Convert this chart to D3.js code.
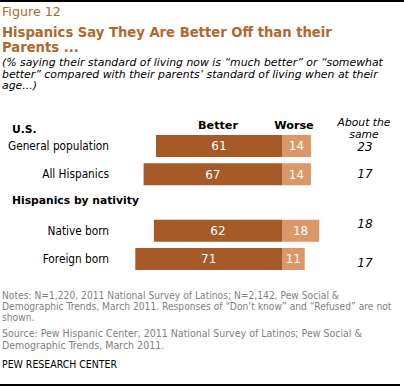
<!DOCTYPE html>
<html>
<head>
<meta charset="utf-8">
<script src="https://cdn.jsdelivr.net/npm/d3@7"></script>
<style>
  html, body { margin: 0; padding: 0; background: #fff; }
  svg { display: block; }
  text { font-family: "DejaVu Sans Condensed", "DejaVu Sans", Verdana, sans-serif; font-stretch: condensed; }
  text.wide { font-family: "DejaVu Sans", Verdana, sans-serif; font-stretch: normal; }
</style>
</head>
<body>
<svg id="chart" width="404" height="387"></svg>
<script>
// ---- data ----
const categories = ["General population", "All Hispanics", "Native born", "Foreign born"];
const groups = ["U.S.", "U.S.", "Hispanics by nativity", "Hispanics by nativity"];
const better = [61, 67, 62, 71];
const worse = [14, 14, 18, 11];
const aboutSame = [23, 17, 18, 17];
const groupHeaders = ["U.S.", "Hispanics by nativity"];
const seriesLabels = ["Better", "Worse"];
const sameLabel = ["About the", "same"];

const titleText = "Figure 12";
const headline = ["Hispanics Say They Are Better Off than their", "Parents ..."];
const subtitle = [
  "(% saying their standard of living now is \u201cmuch better\u201d or \u201csomewhat",
  "better\u201d compared with their parents\u2019 standard of living when at their",
  "age...)"
];
const notes = [
  "Notes: N=1,220,  2011 National Survey of Latinos; N=2,142, Pew  Social &",
  "Demographic Trends, March 2011. Responses of \u201cDon\u2019t know\u201d and \u201cRefused\u201d are not",
  "shown."
];
const source = [
  "Source: Pew Hispanic Center, 2011 National Survey of Latinos; Pew Social &",
  "Demographic Trends, March 2011."
];
const credit = "PEW RESEARCH CENTER";

// ---- layout / style ----
const W = 404, H = 387;
const cBetter = "#A55A27", cWorse = "#DC9769", cTitle = "#B0682E", cNote = "#7F7F7F";
const sameNudge = [1, -1, -7, 4];

const svg = d3.select("#chart");

function fitGroup(sel, refNode, target) {
  const base = 12;
  sel.style("font-size", base + "px");
  const w = refNode.getComputedTextLength();
  const fs = base * target / w;
  sel.style("font-size", fs.toFixed(2) + "px");
  return fs;
}

// rules
svg.append("rect").attr("x", 0).attr("y", 0).attr("width", W).attr("height", 2).attr("fill", "#000");
svg.append("rect").attr("x", 0).attr("y", 384).attr("width", 400).attr("height", 2).attr("fill", "#000");

// Figure label
const fig = svg.append("text").attr("class", "wide").attr("x", 2).attr("y", 16).attr("fill", cTitle).text(titleText);
fitGroup(fig, fig.node(), 59);

// headline
const hl = svg.append("g").selectAll("text").data(headline).join("text").attr("class", "wide")
  .attr("x", 2).attr("y", (d, i) => 37 + i * 14.5)
  .attr("fill", cTitle).attr("font-weight", "bold").text(d => d);
fitGroup(hl, hl.nodes()[0], 330);

// subtitle
const st = svg.append("g").selectAll("text").data(subtitle).join("text").attr("class", "wide")
  .attr("x", 2).attr("y", (d, i) => 66 + i * 11.7)
  .attr("fill", "#000").attr("font-style", "italic").text(d => d);
fitGroup(st, st.nodes()[0], 381);

// scales
const k = 2.066;
const x = d3.scaleLinear().domain([-80, 40]).range([282 - 80 * k, 282 + 40 * k]);
const rows = [categories[0], categories[1], "_gap", categories[2], categories[3]];
const y = d3.scaleBand().domain(rows).range([135, 270]).paddingInner(0.22).paddingOuter(0);

const data = categories.map((c, i) => ({ c, b: better[i], w: worse[i], s: aboutSame[i], i }));

// bars
const gBars = svg.append("g");
gBars.selectAll("rect.better").data(data).join("rect").attr("class", "better")
  .attr("x", d => x(-d.b)).attr("width", d => x(0) - x(-d.b))
  .attr("y", d => y(d.c)).attr("height", y.bandwidth()).attr("fill", cBetter);
gBars.selectAll("rect.worse").data(data).join("rect").attr("class", "worse")
  .attr("x", x(0)).attr("width", d => x(d.w) - x(0))
  .attr("y", d => y(d.c)).attr("height", y.bandwidth()).attr("fill", cWorse);

// value labels
gBars.selectAll("text.vb").data(data).join("text").attr("class", "vb wide")
  .attr("x", d => (x(-d.b) + x(0)) / 2).attr("y", d => y(d.c) + y.bandwidth() / 2)
  .attr("dy", "0.36em").attr("text-anchor", "middle").attr("fill", "#fff")
  .style("font-size", "12px").text(d => d.b);
gBars.selectAll("text.vw").data(data).join("text").attr("class", "vw wide")
  .attr("x", d => (x(d.w) + x(0)) / 2).attr("y", d => y(d.c) + y.bandwidth() / 2)
  .attr("dy", "0.36em").attr("text-anchor", "middle").attr("fill", "#fff")
  .style("font-size", "12px").text(d => d.w);

// about the same values
svg.append("g").selectAll("text").data(data).join("text").attr("class", "wide")
  .attr("x", 365).attr("y", d => y(d.c) + y.bandwidth() / 2 + sameNudge[d.i])
  .attr("dy", "0.36em").attr("text-anchor", "middle").attr("font-style", "italic")
  .style("font-size", "12px").attr("fill", "#000").text(d => d.s);

// row labels
const rl = svg.append("g").selectAll("text").data(data).join("text")
  .attr("x", 109).attr("y", d => y(d.c) + y.bandwidth() / 2)
  .attr("dy", "0.36em").attr("text-anchor", "end").attr("fill", "#000").text(d => d.c);
fitGroup(rl, rl.nodes()[0], 101);

// group headers
const ghY = [129, 200];
const gh = svg.append("g").selectAll("text").data(groupHeaders).join("text").attr("class", "wide")
  .attr("x", 12).attr("y", (d, i) => ghY[i]).attr("dy", "0.36em")
  .attr("font-weight", "bold").attr("fill", "#000").text(d => d);
fitGroup(gh, gh.nodes()[1], 127);

// series headers
const shX = [218, 294];
const sh = svg.append("g").selectAll("text").data(seriesLabels).join("text").attr("class", "wide")
  .attr("x", (d, i) => shX[i]).attr("y", 124.5).attr("dy", "0.36em")
  .attr("text-anchor", "middle").attr("font-weight", "bold").attr("fill", "#000").text(d => d);
fitGroup(sh, sh.nodes()[0], 40);

const sl = svg.append("g").selectAll("text").data(sameLabel).join("text").attr("class", "wide")
  .attr("x", 364).attr("y", (d, i) => 122 + i * 12).attr("dy", "0.36em")
  .attr("text-anchor", "middle").attr("font-style", "italic").attr("fill", "#000").text(d => d);
fitGroup(sl, sl.nodes()[0], 53);

// notes
const nt = svg.append("g").selectAll("text").data(notes).join("text")
  .attr("x", 2).attr("y", (d, i) => 299 + i * 11).attr("fill", cNote).text(d => d);
fitGroup(nt, nt.nodes()[1], 390);

const sc = svg.append("g").selectAll("text").data(source).join("text")
  .attr("x", 2).attr("y", (d, i) => 336.5 + i * 12.5).attr("fill", cNote).text(d => d);
fitGroup(sc, sc.nodes()[0], 360);

const cr = svg.append("text").attr("x", 2).attr("y", 368).attr("fill", "#000").text(credit);
fitGroup(cr, cr.node(), 115);
</script>
</body>
</html>
